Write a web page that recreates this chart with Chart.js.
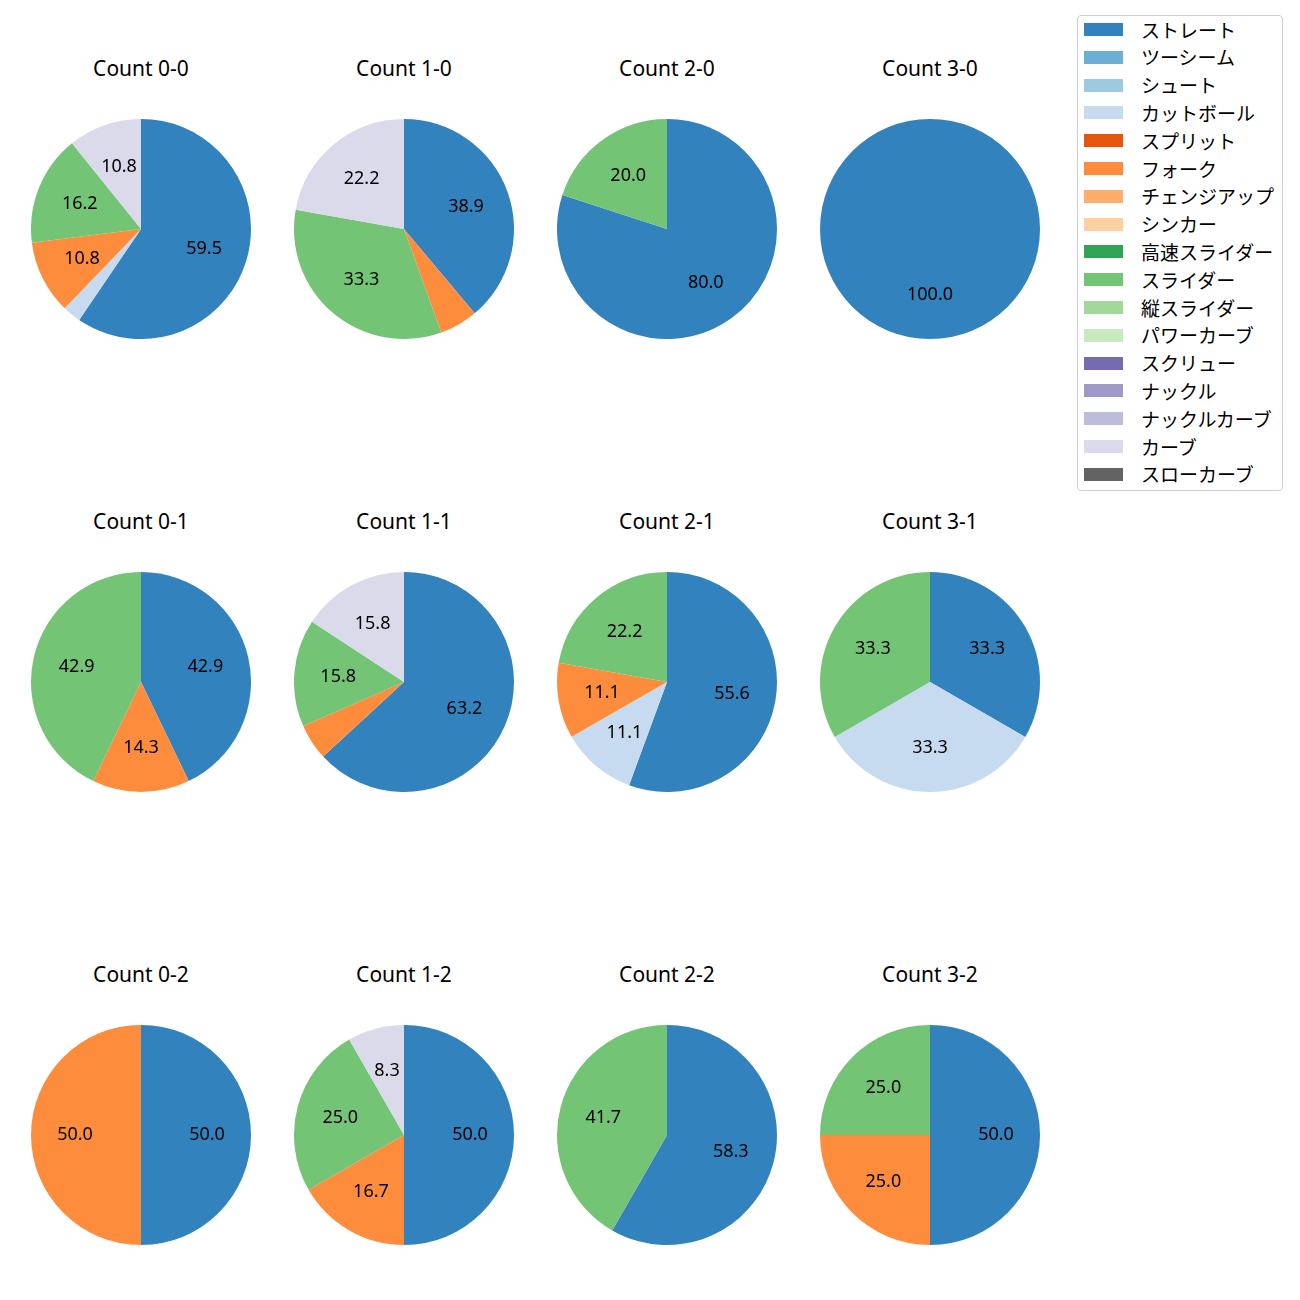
<!DOCTYPE html>
<html lang="ja">
<head>
    <meta charset="UTF-8">
    <title>カウント別 球種割合</title>
    <style>
        body {
            margin: 0;
            background: #fff;
            font-family: "Noto Sans", "Noto Sans CJK JP", sans-serif;
        }
        .page {
            position: relative;
            width: 1300px;
            height: 1300px;
        }
        .pie {
            position: absolute;
        }
        .pie-title {
            position: absolute;
            width: 260px;
            text-align: center;
            font-size: 21px;
            line-height: 24px;
            color: #000;
        }
        .legend {
            position: absolute;
            left: 1077px;
            top: 15px;
            width: 204px;
            height: 474px;
            border: 1px solid #d0d0d0;
            border-radius: 4px;
            background: #fff;
        }
        .legend-row {
            position: absolute;
            left: 6px;
            height: 20px;
            display: flex;
            align-items: center;
        }
        .legend-swatch {
            width: 39px;
            height: 13px;
            margin-right: 18px;
        }
        .legend-text {
            font-family: "Noto Sans CJK JP", sans-serif;
            font-size: 19px;
            line-height: 20px;
            color: #000;
            white-space: nowrap;
        }
    </style>
    <script src="https://cdn.jsdelivr.net/npm/chart.js"></script>
</head>
<body>
    <div class="page" id="page">
        <div class="legend" id="legend"></div>
    </div>
    <script>
        const pitchTypes = ['ストレート', 'ツーシーム', 'シュート', 'カットボール', 'スプリット', 'フォーク',
            'チェンジアップ', 'シンカー', '高速スライダー', 'スライダー', '縦スライダー', 'パワーカーブ',
            'スクリュー', 'ナックル', 'ナックルカーブ', 'カーブ', 'スローカーブ'];
        const pitchColors = ['#3182bd', '#6baed6', '#9ecae1', '#c6dbef', '#e6550d', '#fd8d3c',
            '#fdae6b', '#fdd0a2', '#31a354', '#74c476', '#a1d99b', '#c7e9c0',
            '#756bb1', '#9e9ac8', '#bcbddc', '#dadaeb', '#636363'];

        const countLabels = ['Count 0-0', 'Count 1-0', 'Count 2-0', 'Count 3-0',
            'Count 0-1', 'Count 1-1', 'Count 2-1', 'Count 3-1',
            'Count 0-2', 'Count 1-2', 'Count 2-2', 'Count 3-2'];

        // percentages per pitch type, one value per count (same order as countLabels)
        const straight = [59.5, 38.9, 80.0, 100.0, 42.9, 63.2, 55.6, 33.3, 50.0, 50.0, 58.3, 50.0];
        const cutter   = [2.7, 0, 0, 0, 0, 0, 11.1, 33.3, 0, 0, 0, 0];
        const fork     = [10.8, 5.6, 0, 0, 14.3, 5.3, 11.1, 0, 50.0, 16.7, 0, 25.0];
        const slider   = [16.2, 33.3, 20.0, 0, 42.9, 15.8, 22.2, 33.3, 0, 25.0, 41.7, 25.0];
        const curve    = [10.8, 22.2, 0, 0, 0, 15.8, 0, 0, 0, 8.3, 0, 0];

        const seriesByType = {
            'ストレート': straight,
            'カットボール': cutter,
            'フォーク': fork,
            'スライダー': slider,
            'カーブ': curve
        };

        const colCenters = [141, 404, 667, 930];
        const rowCenters = [229, 682, 1135];
        const radius = 110;

        // draw pct text at 0.6 of the radius, skip thin slices
        const pctLabels = {
            id: 'pctLabels',
            afterDatasetsDraw(chart) {
                const ctx = chart.ctx;
                const meta = chart.getDatasetMeta(0);
                const values = chart.data.datasets[0].data;
                ctx.save();
                ctx.fillStyle = '#000';
                ctx.font = '18px "Noto Sans", sans-serif';
                ctx.textAlign = 'center';
                ctx.textBaseline = 'middle';
                meta.data.forEach((arc, i) => {
                    if (values[i] < 7) return;
                    const p = arc.getProps(['x', 'y', 'startAngle', 'endAngle', 'outerRadius'], true);
                    const mid = (p.startAngle + p.endAngle) / 2;
                    const r = p.outerRadius * 0.6;
                    ctx.fillText(values[i].toFixed(1), p.x + Math.cos(mid) * r, p.y + Math.sin(mid) * r);
                });
                ctx.restore();
            }
        };

        const page = document.getElementById('page');

        countLabels.forEach((label, k) => {
            const cx = colCenters[k % 4];
            const cy = rowCenters[Math.floor(k / 4)];

            const title = document.createElement('div');
            title.className = 'pie-title';
            title.textContent = label;
            title.style.left = (cx - 130) + 'px';
            title.style.top = (cy - 160 - 13) + 'px';
            page.appendChild(title);

            const canvas = document.createElement('canvas');
            canvas.className = 'pie';
            canvas.width = radius * 2;
            canvas.height = radius * 2;
            canvas.style.left = (cx - radius) + 'px';
            canvas.style.top = (cy - radius) + 'px';
            page.appendChild(canvas);

            const labels = [];
            const data = [];
            const colors = [];
            pitchTypes.forEach((name, j) => {
                const s = seriesByType[name];
                if (s && s[k] > 0) {
                    labels.push(name);
                    data.push(s[k]);
                    colors.push(pitchColors[j]);
                }
            });

            new Chart(canvas, {
                type: 'pie',
                data: {
                    labels: labels,
                    datasets: [{
                        data: data,
                        backgroundColor: colors,
                        borderWidth: 0,
                        hoverOffset: 0
                    }]
                },
                options: {
                    responsive: false,
                    animation: false,
                    layout: { padding: 0 },
                    events: [],
                    plugins: {
                        legend: { display: false },
                        tooltip: { enabled: false }
                    }
                },
                plugins: [pctLabels]
            });
        });

        // legend box
        const legend = document.getElementById('legend');
        pitchTypes.forEach((name, j) => {
            const row = document.createElement('div');
            row.className = 'legend-row';
            row.style.top = (3.5 + j * 27.8) + 'px';
            row.innerHTML = '<div class="legend-swatch" style="background:' + pitchColors[j] + '"></div>' +
                '<span class="legend-text">' + name + '</span>';
            legend.appendChild(row);
        });
    </script>
</body>
</html>
